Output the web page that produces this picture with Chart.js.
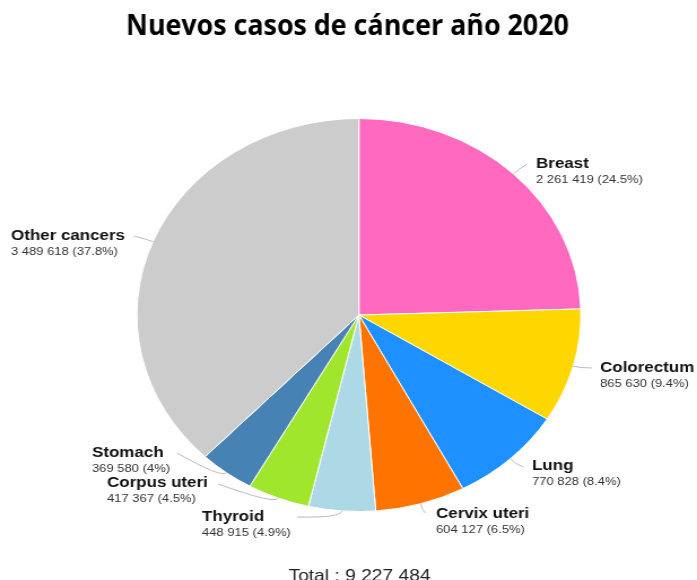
<!DOCTYPE html>
<html>
<head>
<meta charset="utf-8">
<script src="https://cdn.jsdelivr.net/npm/chart.js@4.4.0/dist/chart.umd.min.js"></script>
<style>
    html, body { margin: 0; padding: 0; background: #fff; overflow: hidden; }
    /* the figure is drawn narrow and then widened a little, like the original export */
    #wrap { position: absolute; left: 0; top: 0; width: 617px; height: 580px;
            transform-origin: 0 0; transform: scaleX(1.1297); }
</style>
</head>
<body>
<div id="wrap"><canvas id="pieChart"></canvas></div>
<script>
// New cancer cases 2020 (clockwise from the top)
const cancerNames = ['Breast', 'Colorectum', 'Lung', 'Cervix uteri', 'Thyroid', 'Corpus uteri', 'Stomach', 'Other cancers'];
const newCases = [2261419, 865630, 770828, 604127, 448915, 417367, 369580, 3489618];
const sharePct = ['24.5', '9.4', '8.4', '6.5', '4.9', '4.5', '4', '37.8'];
const sliceColors = ['#FF69C0', '#FFD700', '#1E90FF', '#FF7300', '#ADD8E6', '#A0E62D', '#4682B4', '#CCCCCC'];

const titleText = 'Nuevos casos de cáncer año 2020';
const totalCases = newCases.reduce((a, b) => a + b, 0);

const S = 697 / 617;

// where each label sits: text left x, bold line middle y, leader end x/y (page pixels)
const labelSpots = [
    { x: 536, y: 163, ex: 527, ey: 164 },
    { x: 600, y: 367, ex: 592, ey: 368 },
    { x: 532, y: 465, ex: 523, ey: 467 },
    { x: 436, y: 513, ex: 425, ey: 513 },
    { x: 202, y: 516, ex: 297, ey: 517 },
    { x: 107, y: 482, ex: 218, ey: 484 },
    { x: 92,  y: 452, ex: 177, ey: 453 },
    { x: 11,  y: 235, ex: 134, ey: 236 }
];

function spaced(n) {
    return String(n).replace(/\B(?=(\d{3})+(?!\d))/g, ' ');
}

const labelPlugin = {
    id: 'sliceLabels',
    afterDraw(chart) {
        const ctx = chart.ctx;
        const meta = chart.getDatasetMeta(0);
        ctx.save();

        // title
        ctx.fillStyle = '#000';
        ctx.textAlign = 'center';
        ctx.textBaseline = 'alphabetic';
        ctx.font = 'bold 29px "Open Sans", "Noto Sans", sans-serif';
        ctx.fillText(titleText, 347.5 / S, 35, 392);

        // total under the pie
        ctx.font = '17px "Liberation Sans", Arial, sans-serif';
        ctx.fillStyle = '#222';
        ctx.fillText('Total : ' + spaced(totalCases), 359.5 / S, 581);

        meta.data.forEach((arc, i) => {
            const p = arc.getProps(['x', 'y', 'startAngle', 'endAngle', 'outerRadius']);
            const mid = (p.startAngle + p.endAngle) / 2;
            const sx = p.x + Math.cos(mid) * p.outerRadius;
            const sy = p.y + Math.sin(mid) * p.outerRadius;
            const cx = p.x + Math.cos(mid) * (p.outerRadius + 7);
            const cy = p.y + Math.sin(mid) * (p.outerRadius + 7);
            const spot = labelSpots[i];

            // leader line
            ctx.strokeStyle = '#bbbbbb';
            ctx.lineWidth = 1;
            ctx.beginPath();
            ctx.moveTo(sx, sy);
            ctx.quadraticCurveTo(cx, cy, spot.ex / S, spot.ey);
            ctx.stroke();

            // name and value
            ctx.textAlign = 'left';
            ctx.fillStyle = '#111';
            ctx.font = 'bold 15px "Liberation Sans", Arial, sans-serif';
            ctx.fillText(cancerNames[i], spot.x / S, spot.y + 5);
            ctx.fillStyle = '#333';
            ctx.font = '11.5px "Liberation Sans", Arial, sans-serif';
            ctx.fillText(spaced(newCases[i]) + ' (' + sharePct[i] + '%)', spot.x / S, spot.y + 20);
        });

        ctx.restore();
    }
};

new Chart(document.getElementById('pieChart'), {
    type: 'pie',
    data: {
        labels: cancerNames,
        datasets: [{
            data: newCases,
            backgroundColor: sliceColors,
            borderColor: '#ffffff',
            borderWidth: 1
        }]
    },
    options: {
        responsive: true,
        maintainAspectRatio: false,
        animation: false,
        layout: {
            padding: { top: 118, bottom: 68, left: 120.7, right: 102.3 }
        },
        plugins: {
            legend: { display: false },
            title: { display: false },
            tooltip: { enabled: false }
        }
    },
    plugins: [labelPlugin]
});
</script>
</body>
</html>
